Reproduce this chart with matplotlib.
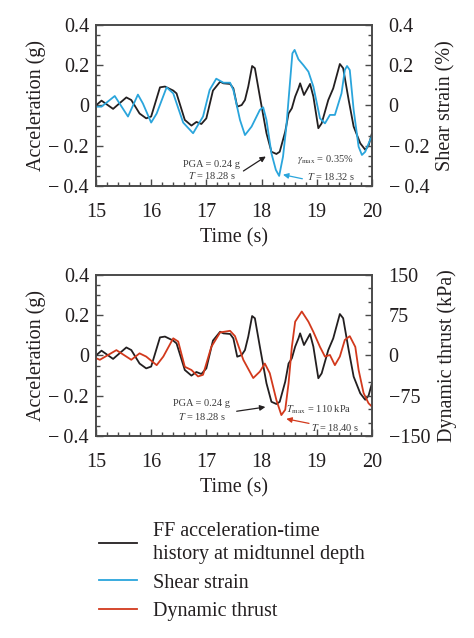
import matplotlib.pyplot as plt
import numpy as np
from matplotlib.ticker import MultipleLocator
from matplotlib.lines import Line2D

plt.rcParams['font.family'] = ['Liberation Serif', 'DejaVu Serif']
plt.rcParams['mathtext.fontset'] = 'stix'

# ====================================
# DATA
# ====================================

# FF acceleration-time history at midtunnel depth (g)
t_acc = [15.0, 15.1, 15.31, 15.55, 15.64, 15.79, 15.91, 16.0, 16.16, 16.25, 16.4, 16.46,
         16.61, 16.73, 16.82, 16.91, 17.0, 17.12, 17.25, 17.31, 17.43, 17.49, 17.56, 17.64,
         17.7, 17.76, 17.83, 17.88, 17.97, 18.09, 18.18, 18.27, 18.33, 18.43, 18.49, 18.55,
         18.61, 18.67, 18.7, 18.77, 18.82, 18.88, 18.94, 19.03, 19.09, 19.21, 19.3, 19.42,
         19.48, 19.58, 19.67, 19.79, 19.88, 19.94, 20.0]
acc = [0.0, 0.024, -0.017, 0.04, 0.027, -0.04, -0.064, -0.055, 0.09, 0.094, 0.074, 0.06,
       -0.072, -0.10, -0.082, -0.092, -0.064, 0.074, 0.118, 0.11, 0.107, 0.085, -0.006, 0.002,
       0.027, 0.094, 0.196, 0.185, 0.044, -0.138, -0.23, -0.241, -0.23, -0.13, -0.04, -0.014,
       0.044, 0.085, 0.11, 0.052, 0.077, 0.107, 0.044, -0.113, -0.089, 0.027, 0.085, 0.206,
       0.185, 0.027, -0.105, -0.188, -0.22, -0.2, -0.14]

# Shear strain (%)
t_ss = [15.0, 15.1, 15.34, 15.58, 15.76, 15.85, 16.0, 16.1, 16.28, 16.4, 16.58, 16.76,
        16.94, 17.06, 17.18, 17.31, 17.43, 17.49, 17.61, 17.7, 17.82, 17.97, 18.03, 18.09,
        18.18, 18.26, 18.32, 18.39, 18.45, 18.51, 18.56, 18.6, 18.67, 18.76, 18.85, 18.94,
        19.06, 19.15, 19.24, 19.33, 19.45, 19.51, 19.55, 19.6, 19.67, 19.76, 19.82, 19.88,
        19.97, 20.0]
ss = [-0.006, -0.006, 0.047, -0.055, 0.054, 0.01, -0.085, -0.04, 0.09, 0.06, -0.085, -0.138,
      -0.055, 0.077, 0.133, 0.113, 0.113, 0.077, -0.072, -0.147, -0.105, -0.022, -0.009, -0.072,
      -0.238, -0.32, -0.35, -0.254, -0.105, 0.094, 0.259, 0.276, 0.229, 0.2, 0.168, 0.094,
      -0.064, -0.089, -0.047, -0.047, 0.06, 0.176, 0.196, 0.176, -0.022, -0.205, -0.246, -0.23,
      -0.17, -0.155]

# Dynamic thrust (kPa)
t_dt = [15.0, 15.07, 15.37, 15.64, 15.79, 15.91, 16.1, 16.22, 16.4, 16.49, 16.61, 16.73,
        16.85, 16.94, 17.09, 17.25, 17.43, 17.52, 17.67, 17.85, 17.97, 18.06, 18.15, 18.27,
        18.36, 18.43, 18.49, 18.55, 18.61, 18.73, 18.85, 18.94, 19.06, 19.15, 19.24, 19.33,
        19.42, 19.51, 19.6, 19.7, 19.76, 19.85, 19.94, 20.0]
dt = [-5, -8, 10, -8, 4, -2, -18, -2, 32, 26, -21, -27,
      -39, -36, 16, 43, 46, 36, -8, -42, -30, -15, -33, -83,
      -111, -101, -52, 16, 63, 82, 63, 44, 16, -2, 1, -18,
      -2, 29, 36, 16, -27, -70, -89, -95]

acc_ticks = [-0.4, -0.2, 0, 0.2, 0.4]
acc_labels = ['\u2212\u20090.4', '\u2212\u20090.2', '0', '0.2', '0.4']
ss_ticks = [-0.4, -0.2, 0, 0.2, 0.4]
ss_labels = ['\u2212\u20090.4', '\u2212\u20090.2', '0', '0.2', '0.4']
dt_ticks = [-150, -75, 0, 75, 150]
dt_labels = ['\u2212150', '\u221275', '0', '75', '150']

c_black = '#231f20'
c_blue = '#2aa5dc'
c_red = '#d2391c'
c_txt = '#3a3a3a'
c_spine = '#4a4a4a'

fig = plt.figure(figsize=(4.74, 6.38), dpi=100)


def style(ax, right, rlim, rticks, rlabels, rminor, rlabel):
    ax.set_xlim(15, 20)
    ax.set_ylim(-0.4, 0.4)
    ax.xaxis.set_major_locator(MultipleLocator(1))
    ax.xaxis.set_minor_locator(MultipleLocator(0.2))
    ax.yaxis.set_minor_locator(MultipleLocator(0.05))
    ax.set_yticks(acc_ticks)
    ax.set_yticklabels(acc_labels)
    ax.tick_params(which='both', direction='in', top=False, colors=c_spine,
                   labelcolor=c_black, labelsize=14.5, width=1.0)
    ax.tick_params(which='major', length=5)
    ax.tick_params(which='minor', length=3)
    ax.tick_params(axis='x', pad=12)
    ax.tick_params(axis='y', pad=5)
    ax.set_xlabel('Time (s)', fontsize=14.5, color=c_black, labelpad=5)
    ax.set_ylabel('Acceleration (g)', fontsize=14.5, color=c_black, labelpad=2)
    right.set_ylim(*rlim)
    right.set_yticks(rticks)
    right.set_yticklabels(rlabels)
    right.yaxis.set_minor_locator(MultipleLocator(rminor))
    right.tick_params(which='both', direction='in', colors=c_spine,
                      labelcolor=c_black, labelsize=14.5, width=1.0)
    right.tick_params(which='major', length=5, pad=12)
    right.tick_params(which='minor', length=3)
    right.set_ylabel(rlabel, fontsize=14.5, color=c_black, labelpad=5)
    for a in (ax, right):
        for s in a.spines.values():
            s.set_color(c_spine)
            s.set_linewidth(1.2)


# ====================================
# TOP PANEL: acceleration + shear strain
# ====================================
ax1 = fig.add_axes([0.2025, 0.7085, 0.582, 0.2524])
ax1r = ax1.twinx()
ax1.plot(t_acc, acc, color=c_black, lw=1.3, zorder=3)
ax1r.plot(t_ss, ss, color=c_blue, lw=1.3)
style(ax1, ax1r, (-0.4, 0.4), ss_ticks, ss_labels, 0.05, 'Shear strain (%)')

ax1r.text(17.1, -0.293, 'PGA = 0.24 g', fontsize=7.5, color=c_txt, ha='center', va='center')
ax1r.text(17.1, -0.35, '$T$ = 18.28 s', fontsize=7.5, color=c_txt, ha='center', va='center')
ax1r.annotate('', xy=(18.12, -0.246), xytext=(17.63, -0.333),
              arrowprops=dict(arrowstyle='-|>', color=c_black, lw=0.9, mutation_scale=8))
ax1r.text(19.15, -0.268, r'$\gamma_{\rm max}$ = 0.35%', fontsize=7.5, color=c_txt,
          ha='center', va='center')
ax1r.text(19.26, -0.354, '$T$ = 18.32 s', fontsize=7.5, color=c_txt, ha='center', va='center')
ax1r.annotate('', xy=(18.34, -0.341), xytext=(18.79, -0.367),
              arrowprops=dict(arrowstyle='-|>', color=c_blue, lw=0.9, mutation_scale=8))

# ====================================
# BOTTOM PANEL: acceleration + dynamic thrust
# ====================================
ax2 = fig.add_axes([0.2025, 0.3166, 0.582, 0.2524])
ax2r = ax2.twinx()
ax2.plot(t_acc, acc, color=c_black, lw=1.3, zorder=3)
ax2r.plot(t_dt, dt, color=c_red, lw=1.3)
style(ax2, ax2r, (-150, 150), dt_ticks, dt_labels, 25, 'Dynamic thrust (kPa)')

ax2.text(16.91, -0.238, 'PGA = 0.24 g', fontsize=7.5, color=c_txt, ha='center', va='center')
ax2.text(16.93, -0.304, '$T$ = 18.28 s', fontsize=7.5, color=c_txt, ha='center', va='center')
ax2.annotate('', xy=(18.12, -0.254), xytext=(17.5, -0.279),
             arrowprops=dict(arrowstyle='-|>', color=c_black, lw=0.9, mutation_scale=8))
ax2.text(19.04, -0.271, r'$T_{\rm max}$ = 110 kPa', fontsize=7.5, color=c_txt,
         ha='center', va='center')
ax2.text(19.33, -0.359, '$T$ = 18.40 s', fontsize=7.5, color=c_txt, ha='center', va='center')
ax2.annotate('', xy=(18.4, -0.312), xytext=(18.91, -0.34),
             arrowprops=dict(arrowstyle='-|>', color=c_red, lw=0.9, mutation_scale=8))

# ====================================
# LEGEND
# ====================================
handles = [Line2D([], [], color=c_black, lw=1.3),
           Line2D([], [], color=c_blue, lw=1.3),
           Line2D([], [], color=c_red, lw=1.3)]
labels = ['FF acceleration-time\nhistory at midtunnel depth', 'Shear strain', 'Dynamic thrust']
leg = fig.legend(handles, labels, loc='upper left', bbox_to_anchor=(0.17, 0.21),
                 frameon=False, fontsize=14.5, handlelength=1.9, handletextpad=0.8,
                 labelspacing=0.45, labelcolor=c_black)
for t in leg.get_texts():
    t.set_linespacing(1.3)

fig.savefig('out.png', dpi=100)
